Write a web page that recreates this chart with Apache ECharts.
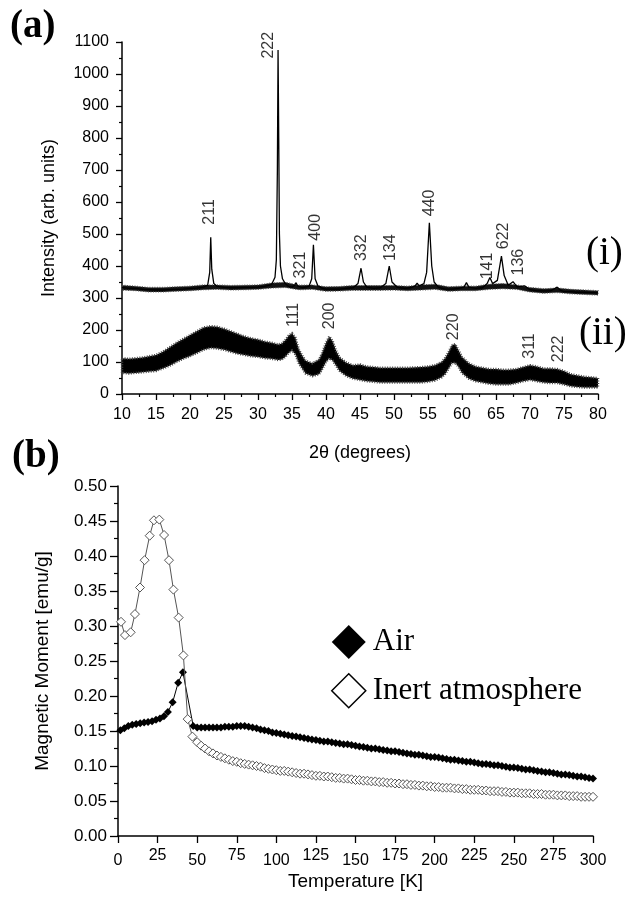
<!DOCTYPE html>
<html><head><meta charset="utf-8">
<script src="https://cdn.jsdelivr.net/npm/echarts@6/dist/echarts.min.js"></script>
<style>html,body{margin:0;padding:0;background:#fff}#c{width:631px;height:897px}</style>
</head><body><div id="c"></div>
<script>
// ===== (a) XRD data =====
// sample (i): line through peaks [2theta, intensity]
const xrdI = [[10,333],[11,330],[12,330],[13,327],[14,326],[15,325],[16,325],[17,326],[18,327],[19,328],[20,330],[21,331],[22,334],[22.6,340],[22.9,380],[23.05,490],[23.2,390],[23.5,345],[24,336],[25,333],[26,332],[27,332],[28,333],[29,333],[30,334],[31,336],[32,342],[32.5,365],[32.7,420],[32.85,700],[32.95,1075],[33.05,800],[33.15,500],[33.3,400],[33.6,360],[34,345],[34.5,336],[35,334],[35.4,340],[35.6,348],[35.8,338],[36.5,332],[37.5,336],[37.9,360],[38.15,466],[38.4,360],[38.8,338],[39.5,330],[40,328],[41,328],[42,328],[43,330],[44,332],[44.7,345],[45.15,393],[45.5,350],[46,334],[47,330],[48,332],[48.8,345],[49.3,400],[49.7,350],[50.5,333],[51.5,330],[52.5,332],[53.1,338],[53.4,346],[53.7,338],[54.4,345],[54.8,380],[55.2,535],[55.55,400],[55.9,350],[56.5,334],[57.5,328],[58.5,328],[59.5,330],[60.3,334],[60.65,348],[61,334],[62,330],[63,332],[63.7,345],[64.1,364],[64.5,345],[65.2,355],[65.8,431],[66.2,370],[66.8,340],[67.5,351],[68.1,335],[69.2,338],[70,326],[71,322],[72,322],[73,322],[74,334],[74.5,324],[75,320],[76,320],[77,318],[78,318],[79,317],[80,316]];
// sample (i): noise envelope [2theta, low, high]
const xrdIBand = [[10,325,340],[12,323,337],[14,319,333],[16,319,333],[18,321,335],[20,323,337],[22,326,341],[24,327,341],[26,325,339],[28,326,340],[30,327,341],[32,331,347],[34,333,349],[36,326,340],[38,327,341],[40,321,335],[42,322,336],[44,324,339],[46,324,339],[48,324,339],[50,325,339],[52,323,337],[54,325,341],[56,327,343],[58,321,335],[60,323,337],[62,323,337],[64,327,343],[66,329,345],[68,327,341],[70,319,333],[72,315,329],[74,317,331],[76,313,327],[78,311,325],[80,309,323]];
// sample (ii): noise envelope [2theta, low, high]
const xrdIIBand = [[10,66,112],[11,64,110],[12,66,112],[13,68,114],[14,70,118],[15,72,122],[16,80,132],[17,88,146],[18,100,160],[19,110,172],[20,118,184],[21,128,196],[22,138,208],[23,144,212],[24,142,210],[25,138,204],[26,132,196],[27,126,188],[28,122,180],[29,118,174],[30,116,170],[31,112,164],[32,110,160],[33,106,155],[33.5,108,158],[34,116,168],[34.5,128,182],[35,136,190],[35.5,124,176],[36,96,140],[36.5,80,120],[37,64,104],[38,56,96],[39,62,108],[39.5,80,132],[40,100,160],[40.5,112,180],[41,104,164],[41.5,88,134],[42,72,114],[43,56,98],[44,48,90],[45,44,92],[46,40,86],[47,38,84],[48,36,82],[50,36,82],[52,36,82],[54,36,84],[55,38,86],[56,42,90],[57,52,100],[57.5,62,112],[58,78,130],[58.5,96,152],[59,98,156],[59.5,84,136],[60,66,116],[61,48,96],[62,40,86],[63,36,82],[64,32,78],[65,30,78],[66,30,76],[67,30,76],[68,34,78],[69,40,84],[70,44,90],[71,40,86],[72,36,80],[73,34,80],[74,34,78],[75,30,72],[76,24,62],[77,22,58],[78,20,54],[79,20,52],[80,20,50]];
// peak labels
const peakNames = ['211','222','321','400','332','134','440','141','622','136','111','200','220','311','222'];
const peakX     = [22.95,31.5,36.2,38.4,45.3,49.5,55.3,63.7,66.1,68.3,35.2,40.6,58.75,70.0,74.2];
const peakY     = [569,1090,403,521,457,457,597,400,494,412,247,244,210,150,141];

// ===== (b) Magnetic moment data =====
const tempAir = [1.5,4,6.5,9,11.5,14,16.5,19,21.5,24,26.5,29,31.5,34.5,38,41,47.5,50,52.5,55,57.5,60,62.5,65,67.5,70,72.5,75,77.5,80,82.5,85,87.5,90,92.5,95,97.5,100,102.5,105,107.5,110,112.5,115,117.5,120,122.5,125,127.5,130,132.5,135,137.5,140,142.5,145,147.5,150,152.5,155,157.5,160,162.5,165,167.5,170,172.5,175,177.5,180,182.5,185,187.5,190,192.5,195,197.5,200,202.5,205,207.5,210,212.5,215,217.5,220,222.5,225,227.5,230,232.5,235,237.5,240,242.5,245,247.5,250,252.5,255,257.5,260,262.5,265,267.5,270,272.5,275,277.5,280,282.5,285,287.5,290,292.5,295,297.5,300];
const momentAir = [.151,.154,.157,.159,.160,.161,.162,.163,.164,.166,.168,.171,.177,.191,.219,.234,.157,.155,.155,.155,.155,.155,.155,.155,.156,.156,.156,.157,.157,.157,.156,.155,.154,.152,.151,.150,.148,.147,.146,.145,.144,.143,.142,.141,.140,.139,.138,.137,.136,.135,.135,.134,.133,.132,.131,.131,.130,.129,.128,.127,.126,.125,.125,.124,.123,.122,.121,.121,.120,.119,.118,.117,.116,.116,.115,.114,.113,.113,.112,.111,.110,.109,.109,.108,.107,.106,.106,.105,.104,.103,.103,.102,.101,.101,.100,.099,.098,.098,.097,.096,.095,.095,.094,.093,.092,.091,.091,.090,.089,.088,.088,.087,.086,.085,.085,.084,.083,.082];
const tempInert = [1.9,4.4,8.0,10.7,13.9,16.8,20.0,22.7,26.1,29.1,32.2,35.0,38.3,41.3,44.0,47.0,50,52.5,55,57.5,60,62.5,65,67.5,70,72.5,75,77.5,80,82.5,85,87.5,90,92.5,95,97.5,100,102.5,105,107.5,110,112.5,115,117.5,120,122.5,125,127.5,130,132.5,135,137.5,140,142.5,145,147.5,150,152.5,155,157.5,160,162.5,165,167.5,170,172.5,175,177.5,180,182.5,185,187.5,190,192.5,195,197.5,200,202.5,205,207.5,210,212.5,215,217.5,220,222.5,225,227.5,230,232.5,235,237.5,240,242.5,245,247.5,250,252.5,255,257.5,260,262.5,265,267.5,270,272.5,275,277.5,280,282.5,285,287.5,290,292.5,295,297.5,300];
const momentInert = [.306,.287,.291,.317,.355,.394,.429,.451,.452,.430,.394,.352,.312,.258,.167,.142,.134,.129,.125,.121,.118,.115,.113,.111,.109,.107,.106,.104,.103,.102,.101,.100,.099,.097,.096,.095,.094,.093,.093,.092,.091,.090,.089,.089,.088,.087,.086,.086,.085,.085,.084,.083,.083,.082,.082,.081,.080,.080,.079,.079,.078,.078,.077,.077,.076,.076,.075,.075,.074,.074,.073,.073,.072,.072,.071,.071,.070,.070,.069,.069,.069,.068,.068,.067,.067,.066,.066,.066,.065,.065,.064,.064,.064,.063,.063,.062,.062,.062,.061,.061,.061,.060,.060,.060,.059,.059,.059,.058,.058,.058,.057,.057,.057,.056,.056,.056,.056];

const SANS = '"Liberation Sans", Arial, sans-serif';
const SERIF = '"Liberation Serif", "Times New Roman", serif';

function bandSeries(band, fill, stroke, strokeWidth) {
  return {
    type: 'custom', xAxisIndex: 0, yAxisIndex: 0, data: [0], silent: true, z: 2,
    renderItem: function (params, api) {
      const pts = [];
      for (let i = 0; i < band.length; i++) pts.push(api.coord([band[i][0], band[i][2]]));
      for (let i = band.length - 1; i >= 0; i--) pts.push(api.coord([band[i][0], band[i][1]]));
      return { type: 'polygon', shape: { points: pts },
        style: { fill: fill, stroke: stroke, lineWidth: strokeWidth, lineDash: [1, 1.5] } };
    }
  };
}

const axisCommon = {
  axisLine: { show: true, onZero: false, lineStyle: { color: '#000', width: 1.5 } },
  splitLine: { show: false },
  nameLocation: 'middle',
  nameTextStyle: { color: '#000', fontSize: 18, fontFamily: SANS }
};

const chart = echarts.init(document.getElementById('c'), null, { renderer: 'canvas' });
chart.setOption({
  animation: false,
  backgroundColor: '#fff',
  grid: [
    { left: 122, top: 42, width: 476, height: 352 },
    { left: 118, top: 486, width: 475, height: 350 }
  ],
  xAxis: [
    Object.assign({}, axisCommon, {
      type: 'value', gridIndex: 0, min: 10, max: 80, interval: 5,
      axisTick: { show: true, length: 6, lineStyle: { color: '#000', width: 1.3 } },
      minorTick: { show: true, splitNumber: 2, length: 3, lineStyle: { color: '#000', width: 1.2 } },
      axisLabel: { color: '#000', fontSize: 16, fontFamily: SANS, margin: 13, formatter: function (v) { return String(v); } },
      name: '2\u03B8 (degrees)', nameGap: 50
    }),
    Object.assign({}, axisCommon, {
      type: 'value', gridIndex: 1, min: 0, max: 300, interval: 25,
      axisTick: { show: true, length: 7, lineStyle: { color: '#000', width: 1.3 } },
      axisLabel: {
        color: '#000', fontSize: 16, fontFamily: SANS, margin: 12,
        formatter: function (v) { return (Math.round(v / 25) % 2 === 1) ? '{u|' + v + '}' : '{d|' + v + '}'; },
        rich: {
          u: { fontSize: 16, fontFamily: SANS, color: '#000' },
          d: { fontSize: 16, fontFamily: SANS, color: '#000', padding: [5, 0, 0, 0] }
        }
      },
      name: 'Temperature [K]', nameGap: 36, nameTextStyle: { color: '#000', fontSize: 19, fontFamily: SANS }
    })
  ],
  yAxis: [
    Object.assign({}, axisCommon, {
      type: 'value', gridIndex: 0, min: 0, max: 1100, interval: 100,
      axisTick: { show: true, length: 6, lineStyle: { color: '#000', width: 1.3 } },
      minorTick: { show: true, splitNumber: 2, length: 3, lineStyle: { color: '#000', width: 1.2 } },
      axisLabel: { color: '#000', fontSize: 16, fontFamily: SANS, margin: 13, formatter: function (v) { return String(v); } },
      name: 'Intensity (arb. units)', nameGap: 64, nameRotate: 90
    }),
    Object.assign({}, axisCommon, {
      type: 'value', gridIndex: 1, min: 0, max: 0.5, interval: 0.05,
      axisTick: { show: true, length: 8, lineStyle: { color: '#000', width: 1.3 } },
      minorTick: { show: true, splitNumber: 2, length: 4, lineStyle: { color: '#000', width: 1.2 } },
      axisLabel: { color: '#000', fontSize: 17, fontFamily: SANS, margin: 11, formatter: function (v) { return v.toFixed(2); } },
      name: 'Magnetic Moment [emu/g]', nameGap: 66, nameRotate: 90, nameTextStyle: { color: '#000', fontSize: 19, fontFamily: SANS }
    })
  ],
  legend: {
    show: true, orient: 'vertical', left: 326, top: 620, itemGap: 14,
    itemWidth: 34, itemHeight: 34, icon: 'diamond',
    textStyle: { color: '#000', fontSize: 31, fontFamily: SERIF, padding: [0, 0, 0, 2] },
    data: [
      { name: 'Air', itemStyle: { color: '#000', borderWidth: 0 } },
      { name: 'Inert atmosphere', itemStyle: { color: '#fff', borderColor: '#000', borderWidth: 1.5 } }
    ]
  },
  graphic: [
    { type: 'text', left: 10, top: 7, style: { text: '(a)', font: 'bold 39px ' + SERIF, fill: '#000' } },
    { type: 'text', left: 12, top: 437, style: { text: '(b)', font: 'bold 39px ' + SERIF, fill: '#000' } },
    { type: 'text', left: 586, top: 234, style: { text: '(i)', font: '39px ' + SERIF, fill: '#000' } },
    { type: 'text', left: 579, top: 314, style: { text: '(ii)', font: '39px ' + SERIF, fill: '#000' } }
  ],
  series: [
    bandSeries(xrdIIBand, '#000', '#444', 2.5),
    bandSeries(xrdIBand, '#111', '#555', 1.2),
    {
      type: 'line', xAxisIndex: 0, yAxisIndex: 0, data: xrdI, showSymbol: false, symbol: 'none',
      lineStyle: { color: '#000', width: 1.3 }, z: 3
    },
    {
      type: 'scatter', xAxisIndex: 0, yAxisIndex: 0, symbolSize: 0, z: 4,
      data: peakNames.map(function (n, i) { return { name: n, value: [peakX[i], peakY[i]] }; }),
      label: { show: true, position: 'inside', rotate: 90, formatter: '{b}', color: '#000', fontSize: 16, fontFamily: SANS }
    },
    {
      name: 'Air', type: 'line', xAxisIndex: 1, yAxisIndex: 1,
      data: tempAir.map(function (t, i) { return [t, momentAir[i]]; }),
      symbol: 'diamond', symbolSize: 8, showAllSymbol: true,
      itemStyle: { color: '#000' }, lineStyle: { color: '#000', width: 1 }, z: 3
    },
    {
      name: 'Inert atmosphere', type: 'line', xAxisIndex: 1, yAxisIndex: 1,
      data: tempInert.map(function (t, i) { return [t, momentInert[i]]; }),
      symbol: 'diamond', symbolSize: 9, showAllSymbol: true,
      itemStyle: { color: '#fff', borderColor: '#555', borderWidth: 1 },
      lineStyle: { color: '#555', width: 1 }, z: 4
    }
  ]
});
</script>
</body></html>
